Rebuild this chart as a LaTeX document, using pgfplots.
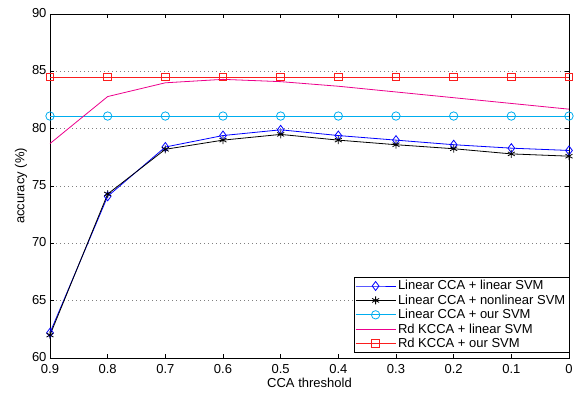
\documentclass[border=0pt]{standalone}
\usepackage{pgfplots}
\pgfplotsset{compat=1.18}
\usepackage{fontspec}
\setmainfont{Liberation Sans}
\definecolor{cRed}{RGB}{250,30,30}
\begin{document}
\begin{tikzpicture}
\useasboundingbox (0pt,0pt) rectangle (575pt,395pt);
\begin{axis}[
  at={(50pt,37pt)}, anchor=south west,
  scale only axis, width=519pt, height=344pt,
  x dir=reverse,
  xmin=0, xmax=0.9, ymin=60, ymax=90,
  xtick={0,0.1,...,0.9},
  xticklabels={0,0.1,0.2,0.3,0.4,0.5,0.6,0.7,0.8,0.9},
  ytick={60,65,...,90},
  ymajorgrids, grid style={dash pattern=on 0.8pt off 3.2pt, gray, thick},
  tick align=inside, major tick length=4pt,
  tick style={black, thin},
  /pgf/number format/assume math mode=true,
  ticklabel style={font=\fontsize{13}{14}\selectfont},
  xticklabel style={yshift=-2.5pt},
  yticklabel style={yshift=1pt},
  label style={font=\fontsize{13}{14}\selectfont},
  xlabel={CCA threshold}, ylabel={accuracy (\%)},
  xlabel style={yshift=2pt}, ylabel style={yshift=-2pt},
  legend style={at={(1,0.015)}, anchor=south east, font=\fontsize{13}{15}\selectfont,
    draw=black, inner sep=1.5pt, row sep=-0.5pt, legend cell align=left},
  legend image code/.code={\draw[mark repeat=2,mark phase=2] plot coordinates {(0pt,0pt)(20pt,0pt)(40pt,0pt)};},
]
\addplot[blue, thick, mark=diamond, mark size=4.5pt, mark options={solid, fill=none}] coordinates {
(0.9,62.2)(0.8,74.1)(0.7,78.4)(0.6,79.4)(0.5,79.9)(0.4,79.4)(0.3,79.0)(0.2,78.6)(0.1,78.3)(0,78.1)};
\addlegendentry{Linear CCA + linear SVM}
\addplot[black, thick, mark=asterisk, mark size=4pt] coordinates {
(0.9,62.0)(0.8,74.3)(0.7,78.2)(0.6,79.0)(0.5,79.5)(0.4,79.0)(0.3,78.6)(0.2,78.25)(0.1,77.8)(0,77.6)};
\addlegendentry{Linear CCA + nonlinear SVM}
\addplot[cyan, thick, mark=o, mark size=4.2pt] coordinates {
(0.9,81.1)(0.8,81.1)(0.7,81.1)(0.6,81.1)(0.5,81.1)(0.4,81.1)(0.3,81.1)(0.2,81.1)(0.1,81.1)(0,81.1)};
\addlegendentry{Linear CCA + our SVM}
\addplot[magenta, thick] coordinates {
(0.9,78.7)(0.8,82.8)(0.7,84.0)(0.6,84.3)(0.5,84.1)(0.4,83.7)(0.3,83.2)(0.2,82.7)(0.1,82.2)(0,81.7)};
\addlegendentry{Rd KCCA + linear SVM}
\addplot[cRed, thick, mark=square, mark size=3.8pt] coordinates {
(0.9,84.5)(0.8,84.5)(0.7,84.5)(0.6,84.5)(0.5,84.5)(0.4,84.5)(0.3,84.5)(0.2,84.5)(0.1,84.5)(0,84.5)};
\addlegendentry{Rd KCCA + our SVM}
\end{axis}
\end{tikzpicture}
\end{document}
